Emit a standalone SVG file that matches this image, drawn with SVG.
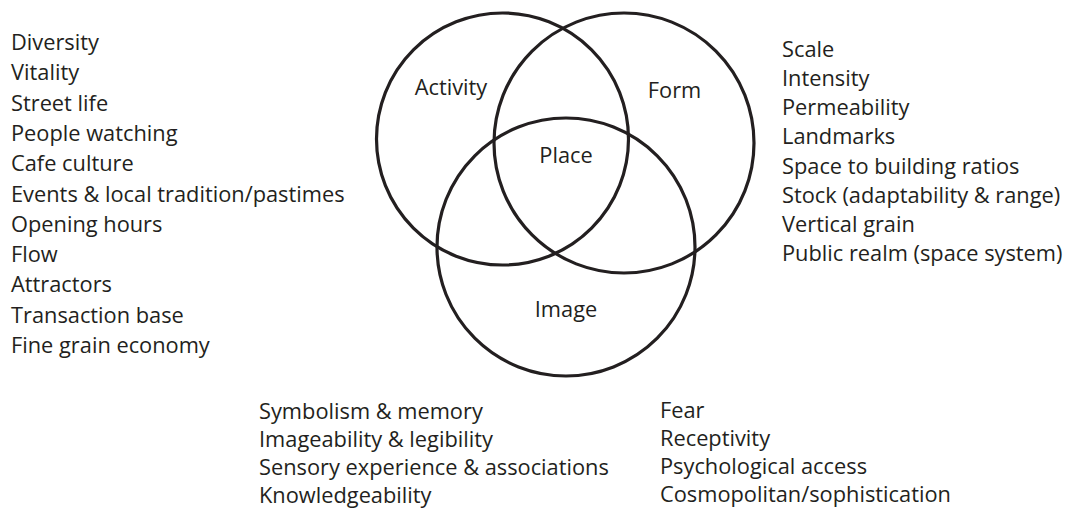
<svg xmlns="http://www.w3.org/2000/svg" width="1067" height="513" viewBox="0 0 1067 513">
<style>
.c{fill:none;stroke:#231f20;stroke-width:3.2}
text{font-family:"Open Sans","Noto Sans","Liberation Sans",sans-serif;font-size:21.8px;fill:#231f20}
.m{text-anchor:middle}
</style>
<rect width="1067" height="513" fill="#fff"/>
<g id="circles">
<g id="activity"><circle class="c" cx="502.5" cy="139" r="126"/><text class="m" x="451" y="95">Activity</text></g>
<g id="form"><circle class="c" cx="624" cy="143" r="130"/><text class="m" x="674.5" y="98">Form</text></g>
<g id="image"><circle class="c" cx="566" cy="247" r="129"/><text class="m" x="566" y="317">Image</text></g>
<g id="place"><text class="m" x="566" y="163">Place</text></g>
</g>
<g id="connectors"/>
<g id="activity-list">
<text x="11" y="50">Diversity</text>
<text x="11" y="80.3">Vitality</text>
<text x="11" y="110.6">Street life</text>
<text x="11" y="140.9">People watching</text>
<text x="11" y="171.2">Cafe culture</text>
<text x="11" y="201.5">Events &amp; local tradition/pastimes</text>
<text x="11" y="231.8">Opening hours</text>
<text x="11" y="262.1">Flow</text>
<text x="11" y="292.4">Attractors</text>
<text x="11" y="322.7">Transaction base</text>
<text x="11" y="353">Fine grain economy</text>
</g>
<g id="form-list">
<text x="782" y="56.7">Scale</text>
<text x="782" y="85.9">Intensity</text>
<text x="782" y="115.1">Permeability</text>
<text x="782" y="144.3">Landmarks</text>
<text x="782" y="173.5">Space to building ratios</text>
<text x="782" y="202.7">Stock (adaptability &amp; range)</text>
<text x="782" y="231.9">Vertical grain</text>
<text x="782" y="261">Public realm (space system)</text>
</g>
<g id="image-list-1">
<text x="259" y="419">Symbolism &amp; memory</text>
<text x="259" y="447">Imageability &amp; legibility</text>
<text x="259" y="475">Sensory experience &amp; associations</text>
<text x="259" y="503">Knowledgeability</text>
</g>
<g id="image-list-2">
<text x="660" y="418">Fear</text>
<text x="660" y="446">Receptivity</text>
<text x="660" y="474">Psychological access</text>
<text x="660" y="502">Cosmopolitan/sophistication</text>
</g>
</svg>
